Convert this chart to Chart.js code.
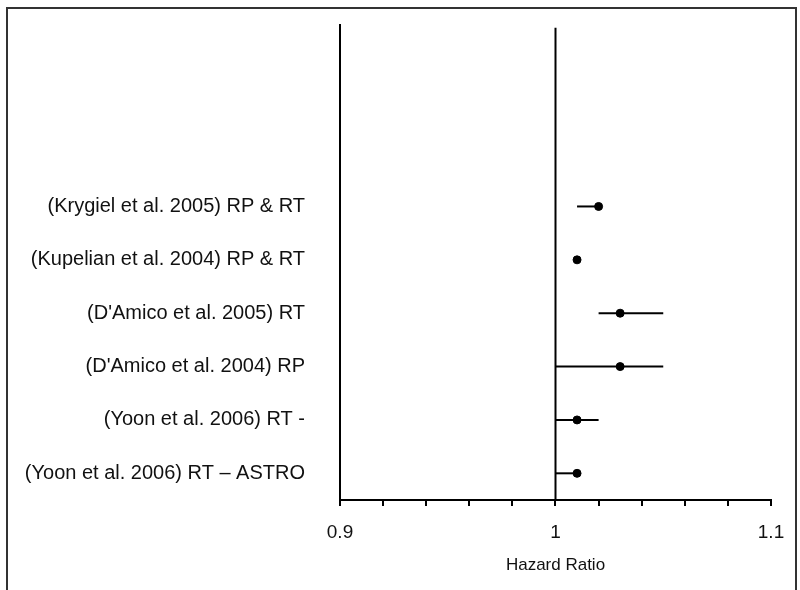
<!DOCTYPE html>
<html>
<head>
<meta charset="utf-8">
<script src="https://cdn.jsdelivr.net/npm/chart.js@4.4.1/dist/chart.umd.min.js"></script>
<style>
  html, body { margin: 0; padding: 0; background: #fff; overflow: hidden; }
  #wrap { position: relative; width: 800px; height: 590px; }
  #frame {
    position: absolute; left: 6px; top: 7px; width: 791px; height: 620px;
    border: 2px solid #333; box-sizing: border-box; pointer-events: none;
  }
  canvas { position: absolute; left: 0; top: 0; }
</style>
</head>
<body>
<div id="wrap">
  <canvas id="forest" width="800" height="590"></canvas>
  <div id="frame"></div>
</div>
<script>
// ---- data (top row first) ----
const studies = [
  '(Krygiel et al. 2005) RP & RT',
  '(Kupelian et al. 2004) RP & RT',
  "(D'Amico et al. 2005) RT",
  "(D'Amico et al. 2004) RP",
  '(Yoon et al. 2006) RT -',
  '(Yoon et al. 2006) RT \u2013 ASTRO'
];
const hr     = [1.02, 1.01, 1.03, 1.03, 1.01, 1.01];
const ciLow  = [1.01, 1.01, 1.02, 1.00, 1.00, 1.00];
const ciHigh = [1.02, 1.01, 1.05, 1.05, 1.02, 1.01];
const xLabels = [0.9, 1, 1.1];
const refLine = 1;

const n = studies.length;
const rowY = i => n - 1 - i;   // top study gets the highest row
const yMin = -0.5, yMax = 8.4;

const datasets = [];

// reference line at HR = 1
datasets.push({
  type: 'line',
  data: [{ x: refLine, y: yMin }, { x: refLine, y: yMax - 0.05 }],
  borderColor: '#000',
  borderWidth: 2,
  pointRadius: 0
});

// confidence intervals
studies.forEach((s, i) => {
  datasets.push({
    type: 'line',
    data: [{ x: ciLow[i], y: rowY(i) }, { x: ciHigh[i], y: rowY(i) }],
    borderColor: '#000',
    borderWidth: 2,
    pointRadius: 0
  });
});

// point estimates
datasets.push({
  type: 'scatter',
  data: hr.map((v, i) => ({ x: v, y: rowY(i) })),
  backgroundColor: '#000',
  borderColor: '#000',
  pointRadius: 4
});

new Chart(document.getElementById('forest'), {
  type: 'scatter',
  data: { datasets },
  options: {
    responsive: false,
    animation: false,
    events: [],
    layout: { padding: { top: 25, right: 29, left: 0, bottom: 0 } },
    plugins: { legend: { display: false }, tooltip: { enabled: false } },
    scales: {
      x: {
        type: 'linear',
        min: 0.9,
        max: 1.1,
        afterFit: scale => { scale.height = 90; },
        afterBuildTicks: scale => {
          const t = [];
          for (let k = 0; k <= 10; k++) t.push({ value: +(0.9 + k * 0.02).toFixed(2) });
          scale.ticks = t;
        },
        ticks: {
          color: '#111',
          font: { family: 'Liberation Sans, Arial, sans-serif', size: 19 },
          padding: 15,
          maxRotation: 0,
          autoSkip: false,
          callback: v => {
            const hit = xLabels.find(l => Math.abs(l - v) < 1e-6);
            return hit === undefined ? '' : String(hit);
          }
        },
        grid: { drawOnChartArea: false, drawTicks: true, tickLength: 6, color: '#000', lineWidth: 2 },
        border: { display: true, color: '#000', width: 2 },
        title: {
          display: true,
          text: 'Hazard Ratio',
          color: '#111',
          font: { family: 'Liberation Sans, Arial, sans-serif', size: 17 },
          padding: { top: 0, bottom: 14 }
        }
      },
      y: {
        type: 'linear',
        min: yMin,
        max: yMax,
        afterFit: scale => { scale.width = 340; },
        afterBuildTicks: scale => {
          scale.ticks = studies.map((s, i) => ({ value: rowY(i) }));
        },
        ticks: {
          color: '#111',
          font: { family: 'Liberation Sans, Arial, sans-serif', size: 20 },
          padding: 2,
          autoSkip: false,
          callback: v => studies[n - 1 - v]
        },
        // invisible tick marks push the labels away from the axis
        grid: { drawOnChartArea: false, drawTicks: true, tickLength: 33, tickColor: 'rgba(0,0,0,0)' },
        border: { display: true, color: '#000', width: 2 }
      }
    }
  }
});
</script>
</body>
</html>
